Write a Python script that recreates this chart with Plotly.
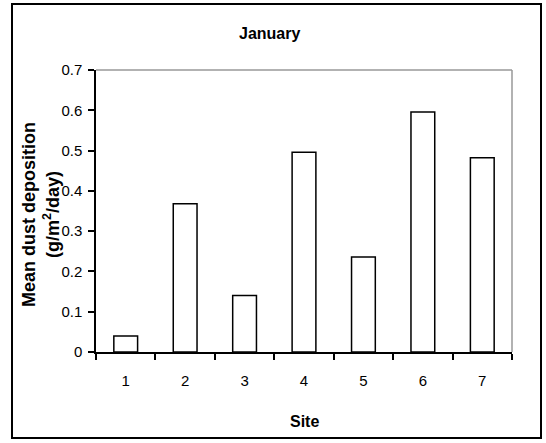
import plotly.graph_objects as go

sites = ["1", "2", "3", "4", "5", "6", "7"]
deposition = [0.04, 0.368, 0.14, 0.496, 0.236, 0.596, 0.482]
y_ticks = [0, 0.1, 0.2, 0.3, 0.4, 0.5, 0.6, 0.7]
y_tick_text = ["0", "0.1", "0.2", "0.3", "0.4", "0.5", "0.6", "0.7"]
y_title_lines = ["<b>Mean dust deposition</b>", "<b>(g/m<sup>2</sup>/day)</b>"]

FONT = "Liberation Sans, Arial, sans-serif"

fig = go.Figure(
    go.Bar(
        x=sites,
        y=deposition,
        width=0.4,
        marker=dict(color="white", line=dict(color="black", width=1.5)),
    )
)

# plot area in pixels: x 96..512, y 70..352
def px_x(v):
    return (v - 96) / 416


def px_y(v):
    return (352 - v) / 282


annotations = [
    dict(text="<b>January</b>", xref="paper", yref="paper",
         x=px_x(269), y=px_y(33), yanchor="middle", showarrow=False,
         font=dict(family=FONT, size=16)),
    dict(text="<b>Site</b>", xref="paper", yref="paper",
         x=0.5, y=px_y(421), yanchor="middle", showarrow=False,
         font=dict(family=FONT, size=16)),
]
for line, xc in zip(y_title_lines, [29, 51]):
    annotations.append(
        dict(text=line, xref="paper", yref="paper",
             x=px_x(xc), y=px_y(215), xanchor="center", yanchor="middle",
             textangle=-90, showarrow=False,
             font=dict(family=FONT, size=18))
    )

fig.update_layout(
    width=546,
    height=443,
    margin=dict(l=96, r=34, t=70, b=91),
    paper_bgcolor="white",
    plot_bgcolor="white",
    showlegend=False,
    font=dict(family=FONT, color="black", size=15),
    shapes=[
        # top and right plot frame in grey
        dict(type="line", xref="paper", yref="paper", x0=0, x1=1, y0=1, y1=1,
             line=dict(color="#999999", width=1.5), layer="below"),
        dict(type="line", xref="paper", yref="paper", x0=1, x1=1, y0=0, y1=1,
             line=dict(color="#999999", width=1.5), layer="below"),
        # outer chart border
        dict(type="rect", xref="paper", yref="paper",
             x0=px_x(12), x1=px_x(541), y0=px_y(438), y1=px_y(4),
             line=dict(color="black", width=2)),
    ],
    annotations=annotations,
)

fig.update_xaxes(
    type="category",
    tickson="boundaries",
    ticks="outside",
    ticklen=6,
    tickwidth=1.5,
    tickcolor="black",
    showline=True,
    linecolor="black",
    linewidth=1.5,
    showgrid=False,
    range=[-0.5, 6.5],
    tickfont=dict(size=15),
    ticklabelstandoff=14,
)

fig.update_yaxes(
    range=[0, 0.7],
    tickvals=y_ticks,
    ticktext=y_tick_text,
    ticks="outside",
    ticklen=6,
    tickwidth=1.5,
    tickcolor="black",
    showline=True,
    linecolor="black",
    linewidth=1.5,
    showgrid=False,
    zeroline=False,
    tickfont=dict(size=15),
    ticklabelstandoff=3,
)

fig.write_html("out.html")
